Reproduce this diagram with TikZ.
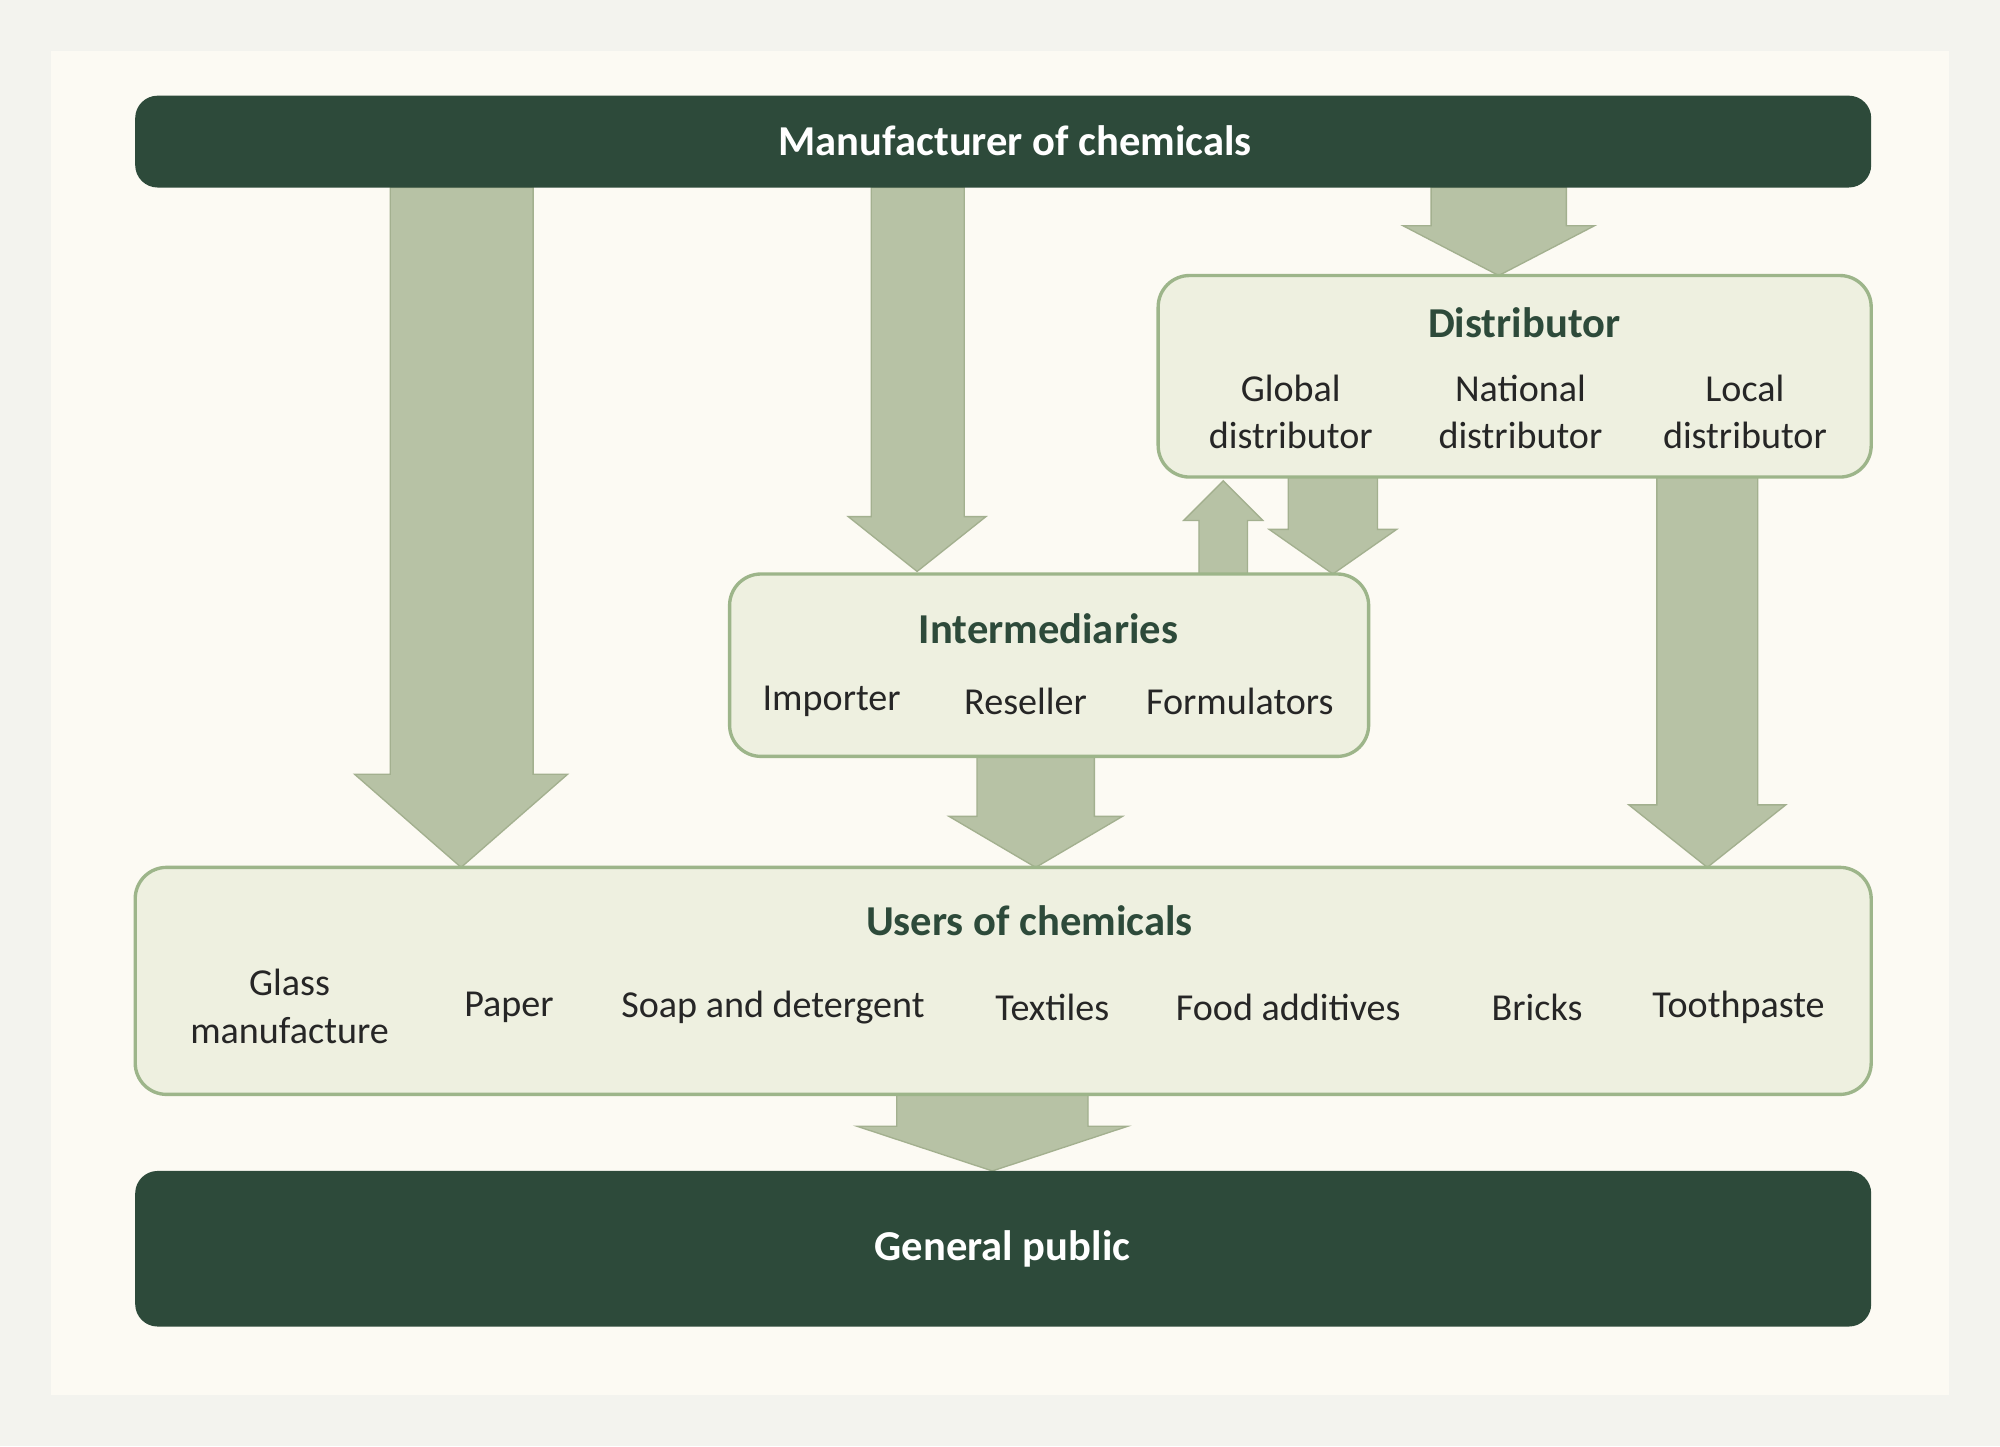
\documentclass[tikz,border=0pt]{standalone}
\usepackage{fontspec}
\setmainfont{Carlito}
\definecolor{bgout}{HTML}{F3F3EE}
\definecolor{bgin}{HTML}{FCFAF3}
\definecolor{dark}{HTML}{2D4A3A}
\definecolor{boxfill}{HTML}{EEF0E0}
\definecolor{boxline}{HTML}{9DB58A}
\definecolor{arr}{HTML}{B7C2A5}
\definecolor{arrline}{HTML}{A3B08F}
\begin{document}
\begin{tikzpicture}[x=0.02cm,y=-0.02cm,
  bar/.style={fill=dark,rounded corners=10pt},
  box/.style={fill=boxfill,draw=boxline,line width=1.5pt,rounded corners=14pt},
  bigarrow/.style={fill=arr,draw=arrline,line width=0.6pt},
  ttl/.style={font=\fontsize{19}{22}\selectfont\bfseries,text=dark},
  wttl/.style={font=\fontsize{19}{22}\selectfont\bfseries,text=white},
  itm/.style={font=\fontsize{17}{21}\selectfont,align=center,text=black!85}]
\fill[bgout] (0,0) rectangle (1568,1134);
\fill[bgin] (40,40) rectangle (1528,1094);
% arrows
\newcommand{\darrow}[7]{\draw[bigarrow] (#1,#3) -- (#1,#4) -- (#5,#4) -- (#7,#6) -- ({2*#7-#5},#4) -- (#2,#4) -- (#2,#3) -- cycle;}
\darrow{306}{418}{147}{607}{278}{680}{361.5}
\darrow{683}{756}{147}{405}{665}{448}{719}
\darrow{1122}{1228}{147}{177}{1100}{216}{1175}
\darrow{1010}{1080}{374}{415}{995}{450}{1045}
\darrow{1299}{1378}{374}{631}{1277}{680}{1338.5}
\darrow{766}{858}{593}{640}{744}{680}{812}
\darrow{703}{853}{858}{883}{672}{918}{778}
\draw[bigarrow] (940,450) -- (940,408) -- (928,408) -- (959,377) -- (990,408) -- (978,408) -- (978,450) -- cycle;
% bars
\fill[bar] (106,75) rectangle (1467,147);
\node[wttl] (manu) at (796,110) {Manufacturer of chemicals};
\fill[bar] (106,918) rectangle (1467,1040);
\node[wttl] (pub) at (786,979) {General public};
% distributor
\draw[box] (908,216) rectangle (1467,374);
\node[ttl] (dist) at (1195,253) {Distributor};
\node[itm] (gd) at (1012,323) {Global\\distributor};
\node[itm] (nd) at (1192,323) {National\\distributor};
\node[itm] (ld) at (1368,323) {Local\\distributor};
% intermediaries
\draw[box] (572,450) rectangle (1073,593);
\node[ttl] (inter) at (822,493) {Intermediaries};
\node[itm] (imp) at (652,550) {Importer};
\node[itm] (res) at (804,550) {Reseller};
\node[itm] (form) at (972,550) {Formulators};
% users
\draw[box] (106,680) rectangle (1467,858);
\node[ttl] (users) at (807,722) {Users of chemicals};
\node[itm] (glass) at (227,789) {Glass\\manufacture};
\node[itm] (paper) at (399,790) {Paper};
\node[itm] (soap) at (606,790) {Soap and detergent};
\node[itm] (tex) at (825,790) {Textiles};
\node[itm] (food) at (1010,790) {Food additives};
\node[itm] (brick) at (1205,790) {Bricks};
\node[itm] (tooth) at (1363,790) {Toothpaste};
\end{tikzpicture}
\end{document}
